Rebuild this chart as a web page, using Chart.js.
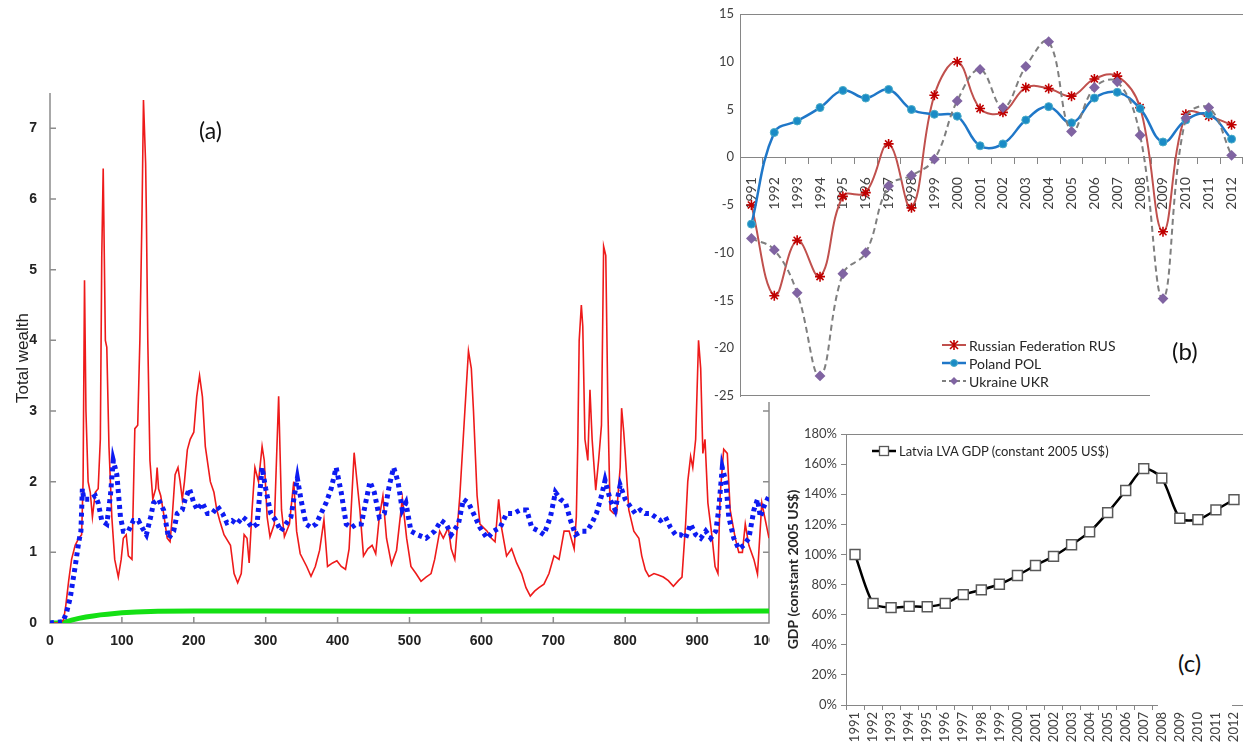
<!DOCTYPE html>
<html>
<head>
<meta charset="utf-8">
<script src="https://cdn.jsdelivr.net/npm/chart.js@4.4.0/dist/chart.umd.min.js"></script>
<style>
  body { margin: 0; width: 1243px; height: 742px; background: #fff; position: relative; overflow: hidden; }
  canvas { position: absolute; }
  #chartA { left: 0; top: 80px; }
  #chartB { left: 708px; top: 0; background: #fff; }
  #chartC { left: 770px; top: 403px; background: #fff; }
  .tag { position: absolute; background: #fff; font-family: Lato, sans-serif; font-size: 24px; color: #111; }
  .legend { position: absolute; font-family: Lato, sans-serif; font-size: 14px; color: #262626; }
  .legend div { height: 18px; display: flex; align-items: center; white-space: nowrap; }
  .legend svg { margin-right: 3px; }
</style>
</head>
<body>
<canvas id="chartA" width="800" height="580"></canvas>
<div class="tag" style="left:199px; top:116px; font-size:23px; background:none;">(a)</div>
<canvas id="chartB" width="535" height="402"></canvas>
<div class="legend" style="left:942px; top:336px;">
  <div><svg width="24" height="12"><line x1="0" y1="6" x2="24" y2="6" stroke="#C0504D" stroke-width="2"/><path d="M8 2 L16 10 M16 2 L8 10 M12 1 L12 11" stroke="#C00000" stroke-width="1.6"/></svg>Russian Federation RUS</div>
  <div><svg width="24" height="12"><line x1="0" y1="6" x2="24" y2="6" stroke="#1F77C8" stroke-width="2.5"/><circle cx="12" cy="6" r="3.5" fill="#1a8bc6" stroke="#4bacc6"/></svg>Poland POL</div>
  <div><svg width="24" height="12"><line x1="0" y1="6" x2="24" y2="6" stroke="#7f7f7f" stroke-width="2" stroke-dasharray="4 3"/><path d="M12 2 L16 6 L12 10 L8 6 Z" fill="#8064A2"/></svg>Ukraine UKR</div>
</div>
<div class="tag" style="left:1150px; top:310px; width:93px; height:92px;"><span style="position:absolute; left:22px; top:26px;">(b)</span></div>
<canvas id="chartC" width="473" height="339"></canvas>
<div class="legend" style="left:872px; top:442px; font-size:13px;">
  <div><svg width="24" height="12"><line x1="0" y1="6" x2="24" y2="6" stroke="#000" stroke-width="2.5"/><rect x="7.5" y="1.5" width="9" height="9" fill="#fff" stroke="#595959" stroke-width="1.3"/></svg>Latvia LVA GDP (constant 2005 US$)</div>
</div>
<div class="tag" style="left:1158px; top:640px; width:74px; height:71px;"><span style="position:absolute; left:20px; top:8px;">(c)</span></div>
<script>
// ---- panel (a): simulated total wealth ----
const redSteps = [0, 8, 15, 19, 22, 26, 30, 35, 40, 44, 46, 48, 50, 53, 56, 59, 63, 67, 70, 72, 74, 77, 79, 82, 86, 90, 95, 99, 102, 106, 109, 114, 118, 122, 125, 128, 130, 133, 134, 136, 139, 143, 147, 149, 151, 154, 158, 163, 167, 170, 174, 178, 181, 184, 187, 191, 195, 200, 204, 208, 212, 216, 223, 228, 232, 236, 242, 251, 256, 261, 266, 270, 274, 277, 281, 285, 290, 295, 298, 302, 306, 312, 318, 322, 326, 333, 339, 343, 348, 357, 363, 369, 375, 381, 386, 393, 399, 405, 411, 416, 423, 428, 431, 436, 442, 448, 453, 458, 463, 468, 475, 482, 490, 496, 502, 509, 516, 523, 530, 535, 542, 547, 554, 558, 563, 570, 577, 582, 586, 589, 594, 598, 608, 614, 619, 624, 628, 635, 642, 649, 656, 662, 668, 674, 680, 687, 694, 701, 708, 715, 722, 729, 732, 734, 736, 739, 741, 744, 748, 751, 754, 759, 763, 767, 770, 773, 776, 779, 784, 788, 793, 795, 798, 800, 805, 812, 819, 823, 828, 833, 840, 846, 853, 860, 867, 874, 879, 884, 887, 891, 894, 898, 902, 905, 908, 911, 915, 921, 925, 929, 932, 937, 942, 946, 953, 958, 963, 967, 972, 979, 984, 990, 995, 1000];
const redWealth = [0, 0, 0, 0.05, 0.25, 0.6, 0.9, 1.1, 1.2, 1.25, 2.0, 4.85, 3.0, 2.0, 1.85, 1.5, 1.85, 1.9, 2.6, 5.2, 6.43, 4.0, 3.9, 2.5, 1.5, 0.9, 0.65, 0.9, 1.2, 1.25, 0.95, 0.9, 2.75, 2.8, 4.0, 5.8, 7.4, 6.5, 5.8, 4.0, 2.3, 1.75, 1.9, 2.2, 1.9, 1.8, 1.55, 1.2, 1.15, 1.5, 2.1, 2.2, 2.0, 1.75, 2.0, 2.45, 2.6, 2.7, 3.2, 3.5, 3.2, 2.5, 2.0, 1.85, 1.6, 1.45, 1.25, 1.1, 0.7, 0.57, 0.7, 1.25, 1.2, 0.85, 1.6, 2.2, 2.0, 2.5, 2.3, 1.5, 1.22, 1.4, 3.21, 1.6, 1.22, 1.4, 2.0, 1.3, 0.98, 0.8, 0.66, 0.8, 1.03, 1.46, 0.8, 0.85, 0.88, 0.8, 0.76, 1.05, 2.41, 1.9, 1.6, 0.95, 1.05, 1.1, 0.98, 1.5, 1.8, 1.2, 0.83, 1.03, 1.76, 1.2, 0.8, 0.7, 0.59, 0.65, 0.7, 0.9, 1.3, 1.2, 1.35, 1.05, 0.9, 1.8, 3.0, 3.85, 3.6, 3.0, 1.8, 1.4, 1.3, 1.2, 1.15, 1.75, 1.35, 0.95, 1.05, 0.85, 0.7, 0.5, 0.38, 0.45, 0.5, 0.55, 0.7, 0.95, 0.9, 1.3, 1.3, 1.05, 1.5, 2.5, 4.0, 4.5, 4.2, 2.6, 2.3, 3.3, 2.6, 1.88, 2.3, 2.8, 5.33, 5.2, 3.0, 1.6, 1.55, 1.55, 2.2, 3.04, 2.7, 2.4, 1.6, 1.3, 1.2, 0.95, 0.75, 0.66, 0.7, 0.68, 0.65, 0.6, 0.52, 0.6, 0.65, 1.4, 2.0, 2.36, 2.2, 2.6, 4.0, 3.6, 2.4, 2.6, 1.7, 1.2, 0.8, 0.7, 1.8, 2.46, 2.4, 1.6, 1.2, 1.0, 1.0, 1.4, 1.1, 0.9, 0.69, 1.7, 1.45, 1.2];

const blueSteps = [0, 18, 23, 28, 35, 40, 43, 45, 47, 51, 56, 63, 67, 72, 79, 84, 88, 93, 98, 102, 109, 116, 123, 128, 134, 140, 144, 151, 158, 165, 172, 177, 184, 188, 194, 200, 205, 212, 219, 226, 233, 240, 246, 253, 260, 268, 274, 281, 288, 295, 300, 307, 314, 321, 328, 335, 344, 349, 356, 363, 370, 377, 384, 391, 398, 405, 412, 419, 426, 433, 440, 445, 451, 458, 465, 472, 478, 484, 490, 495, 502, 511, 523, 535, 544, 551, 558, 568, 575, 582, 589, 598, 608, 617, 626, 635, 645, 654, 663, 670, 680, 687, 696, 703, 710, 717, 724, 731, 740, 747, 753, 760, 767, 772, 779, 786, 793, 800, 807, 814, 821, 828, 835, 842, 849, 856, 863, 870, 877, 884, 891, 898, 905, 912, 919, 926, 930, 935, 940, 944, 951, 958, 965, 972, 979, 984, 988, 993, 1000];
const blueWealth = [0, 0.02, 0.15, 0.35, 0.8, 1.15, 1.3, 1.9, 1.75, 1.75, 1.75, 1.8, 1.7, 1.45, 1.4, 1.8, 2.3, 2.1, 1.5, 1.3, 1.3, 1.45, 1.45, 1.35, 1.25, 1.5, 1.7, 1.75, 1.6, 1.2, 1.3, 1.55, 1.6, 1.75, 1.9, 1.7, 1.6, 1.7, 1.55, 1.55, 1.65, 1.55, 1.42, 1.45, 1.4, 1.5, 1.45, 1.35, 1.4, 2.2, 1.9, 1.55, 1.45, 1.3, 1.4, 1.5, 2.05, 1.75, 1.4, 1.35, 1.4, 1.55, 1.7, 1.9, 2.2, 1.85, 1.4, 1.35, 1.4, 1.4, 1.75, 2.0, 1.85, 1.5, 1.55, 1.95, 2.2, 2.0, 1.6, 1.7, 1.3, 1.25, 1.2, 1.3, 1.45, 1.4, 1.25, 1.4, 1.75, 1.7, 1.55, 1.35, 1.2, 1.3, 1.35, 1.55, 1.55, 1.6, 1.6, 1.35, 1.3, 1.25, 1.5, 1.85, 1.75, 1.7, 1.45, 1.25, 1.3, 1.3, 1.4, 1.55, 1.8, 2.02, 1.75, 1.6, 1.95, 1.75, 1.65, 1.55, 1.6, 1.55, 1.55, 1.5, 1.45, 1.5, 1.35, 1.25, 1.25, 1.2, 1.4, 1.25, 1.2, 1.3, 1.2, 1.3, 1.6, 2.2, 2.0, 1.5, 1.2, 1.05, 1.1, 1.2, 1.6, 1.75, 1.5, 1.65, 1.8];

const greenSteps = [0, 15, 20, 30, 40, 50, 60, 70, 80, 90, 100, 120, 150, 200, 300, 500, 700, 900, 1000];
const greenWealth = [0, 0, 0.01, 0.04, 0.065, 0.085, 0.1, 0.115, 0.125, 0.135, 0.145, 0.155, 0.165, 0.17, 0.17, 0.168, 0.17, 0.168, 0.17];

// ---- panel (b): GDP growth, % ----
const years = ['1991', '1992', '1993', '1994', '1995', '1996', '1997', '1998', '1999', '2000', '2001', '2002', '2003', '2004', '2005', '2006', '2007', '2008', '2009', '2010', '2011', '2012'];
const rusGrowth = [-5.0, -14.5, -8.7, -12.5, -4.1, -3.7, 1.4, -5.3, 6.5, 10.0, 5.1, 4.7, 7.3, 7.2, 6.4, 8.2, 8.5, 5.2, -7.8, 4.5, 4.3, 3.4];
const polGrowth = [-7.0, 2.6, 3.8, 5.2, 7.0, 6.2, 7.1, 5.0, 4.5, 4.3, 1.2, 1.4, 3.9, 5.3, 3.6, 6.2, 6.8, 5.1, 1.6, 3.9, 4.5, 1.9];
const ukrGrowth = [-8.5, -9.7, -14.2, -22.9, -12.2, -10.0, -3.0, -1.9, -0.2, 5.9, 9.2, 5.2, 9.5, 12.1, 2.7, 7.3, 7.9, 2.3, -14.8, 4.1, 5.2, 0.2];

// ---- panel (c): Latvia GDP relative to 1991, % ----
const latviaGdp = [100, 67.5, 64.7, 65.5, 65.3, 67.5, 73.3, 76.5, 80.2, 86, 92.7, 98.7, 106.4, 115, 127.8, 142.5, 157, 150.7, 124, 123.1, 129.6, 136.4];

const toPoints = (xs, ys) => xs.map((x, i) => ({ x: x, y: ys[i] }));

const xlFont = { family: 'Lato', size: 13 };

// no extra side padding from overhanging labels
const noPad = s => { s.paddingLeft = 0; s.paddingRight = 0; s.paddingTop = 0; s.paddingBottom = 0; };

// inward ticks and open box for panel (a)
const innerAxes = {
  id: 'innerAxes',
  beforeDatasetsDraw(chart) {
    const { ctx, chartArea: a, scales: { x, y } } = chart;
    ctx.save();
    ctx.strokeStyle = '#8c8c8c';
    ctx.lineWidth = 1.5;
    ctx.beginPath();
    ctx.moveTo(a.left, a.top); ctx.lineTo(a.left, a.bottom); ctx.lineTo(a.right, a.bottom); ctx.lineTo(a.right, a.top);
    x.ticks.forEach(t => {
      const p = x.getPixelForValue(t.value);
      ctx.moveTo(p, a.bottom); ctx.lineTo(p, a.bottom - 6);
    });
    y.ticks.forEach(t => {
      const p = y.getPixelForValue(t.value);
      ctx.moveTo(a.left, p); ctx.lineTo(a.left + 6, p);
      ctx.moveTo(a.right, p); ctx.lineTo(a.right - 6, p);
    });
    ctx.stroke();
    ctx.restore();
  }
};

// plot area border lines for the excel panels
const plotFrame = {
  id: 'plotFrame',
  beforeDatasetsDraw(chart, args, opts) {
    const { ctx, chartArea: a } = chart;
    ctx.save();
    ctx.strokeStyle = '#868686';
    ctx.lineWidth = 1;
    ctx.beginPath();
    ctx.moveTo(a.left, a.top + 0.5); ctx.lineTo(a.right, a.top + 0.5);
    if (opts.bottom) { ctx.moveTo(a.left, a.bottom - 0.5); ctx.lineTo(a.right, a.bottom - 0.5); }
    ctx.stroke();
    ctx.restore();
  }
};

new Chart('chartA', {
  type: 'line',
  data: {
    datasets: [
      { label: 'blue', data: toPoints(blueSteps, blueWealth), borderColor: '#0d1bf2', borderWidth: 5, borderDash: [4, 4], pointRadius: 0, order: 1 },
      { label: 'red', data: toPoints(redSteps, redWealth), borderColor: '#ee1a1a', borderWidth: 1.6, pointRadius: 0, order: 2 },
      { label: 'green', data: toPoints(greenSteps, greenWealth), borderColor: '#14e014', borderWidth: 5, pointRadius: 0, order: 3 }
    ]
  },
  options: {
    responsive: false, animation: false, devicePixelRatio: 1,
    layout: { padding: { left: 0, top: 13, right: 31, bottom: 0 }, autoPadding: false },
    plugins: { legend: { display: false }, tooltip: { enabled: false } },
    scales: {
      x: {
        type: 'linear', min: 0, max: 1000,
        ticks: { stepSize: 100, autoSkip: false, maxRotation: 0, padding: 2, color: '#222', font: { family: 'Liberation Sans', size: 14, weight: 'bold' }, callback: v => String(v) },
        grid: { display: false }, border: { display: false },
        afterFit: s => { noPad(s); s.height = 37; }
      },
      y: {
        min: 0, max: 7.5,
        ticks: { stepSize: 1, includeBounds: false, padding: 5, color: '#222', font: { family: 'Liberation Sans', size: 14, weight: 'bold' } },
        grid: { display: false }, border: { display: false },
        title: { display: true, text: 'Total wealth', color: '#222', font: { family: 'Liberation Sans', size: 17 }, padding: { top: 13, bottom: 0 } },
        afterFit: s => { noPad(s); s.width = 50; }
      }
    }
  },
  plugins: [innerAxes]
});

new Chart('chartB', {
  type: 'line',
  data: {
    labels: years,
    datasets: [
      { label: 'Russian Federation RUS', data: rusGrowth, borderColor: '#C0504D', borderWidth: 2, tension: 0.4, pointStyle: 'star', pointRadius: 5, pointBorderColor: '#C00000', pointBorderWidth: 1.6, order: 3 },
      { label: 'Poland POL', data: polGrowth, borderColor: '#1F77C8', borderWidth: 2.5, tension: 0.4, pointStyle: 'circle', pointRadius: 4, pointBackgroundColor: '#1a8bc6', pointBorderColor: '#4bacc6', pointBorderWidth: 1, order: 2 },
      { label: 'Ukraine UKR', data: ukrGrowth, borderColor: '#7f7f7f', borderWidth: 2, borderDash: [6, 4], tension: 0.4, pointStyle: 'rectRot', pointRadius: 4, pointBackgroundColor: '#8064A2', pointBorderColor: '#8064A2', order: 1 }
    ]
  },
  options: {
    responsive: false, animation: false, devicePixelRatio: 1,
    layout: { padding: { left: 0, top: 14, right: 0, bottom: 6 }, autoPadding: false },
    plugins: { legend: { display: false }, tooltip: { enabled: false }, plotFrame: { bottom: true } },
    scales: {
      x: {
        position: { y: 0 },
        offset: true,
        grid: { offset: true, drawOnChartArea: false, drawTicks: true, tickLength: 6, color: '#868686' },
        border: { color: '#868686' },
        ticks: { minRotation: 90, maxRotation: 90, autoSkip: false, padding: 14, color: '#404040', font: { family: 'Lato', size: 14 } },
        afterFit: noPad
      },
      y: {
        min: -25, max: 15,
        ticks: { stepSize: 5, padding: 6, color: '#404040', font: xlFont },
        grid: { drawOnChartArea: false, drawTicks: false },
        border: { color: '#868686' },
        afterFit: s => { noPad(s); s.width = 32; }
      }
    }
  },
  plugins: [plotFrame]
});

new Chart('chartC', {
  type: 'line',
  data: {
    labels: years,
    datasets: [
      { label: 'Latvia LVA GDP (constant 2005 US$)', data: latviaGdp, borderColor: '#000', borderWidth: 2.5, tension: 0.25, pointStyle: 'rect', pointRadius: 7, pointBackgroundColor: '#fff', pointBorderColor: '#595959', pointBorderWidth: 1.5 }
    ]
  },
  options: {
    responsive: false, animation: false, devicePixelRatio: 1,
    layout: { padding: { left: 0, top: 31, right: 0, bottom: 0 }, autoPadding: false },
    plugins: { legend: { display: false }, tooltip: { enabled: false }, plotFrame: { bottom: false } },
    scales: {
      x: {
        offset: true,
        grid: { offset: true, drawOnChartArea: false, drawTicks: true, tickLength: 5, color: '#868686' },
        border: { color: '#868686' },
        ticks: { minRotation: 90, maxRotation: 90, autoSkip: false, padding: 2, color: '#404040', font: xlFont },
        afterFit: s => { noPad(s); s.height = 37; }
      },
      y: {
        min: 0, max: 180,
        ticks: { stepSize: 20, padding: 4, color: '#404040', font: xlFont, callback: v => v + '%' },
        grid: { drawOnChartArea: false, drawTicks: true, tickLength: 5, color: '#868686' },
        border: { color: '#868686' },
        title: { display: true, text: 'GDP (constant 2005 US$)', color: '#262626', font: { family: 'Lato', size: 14, weight: 'bold' }, padding: { top: 15, bottom: 0 } },
        afterFit: s => { noPad(s); s.width = 76; }
      }
    }
  },
  plugins: [plotFrame]
});
</script>
</body>
</html>
